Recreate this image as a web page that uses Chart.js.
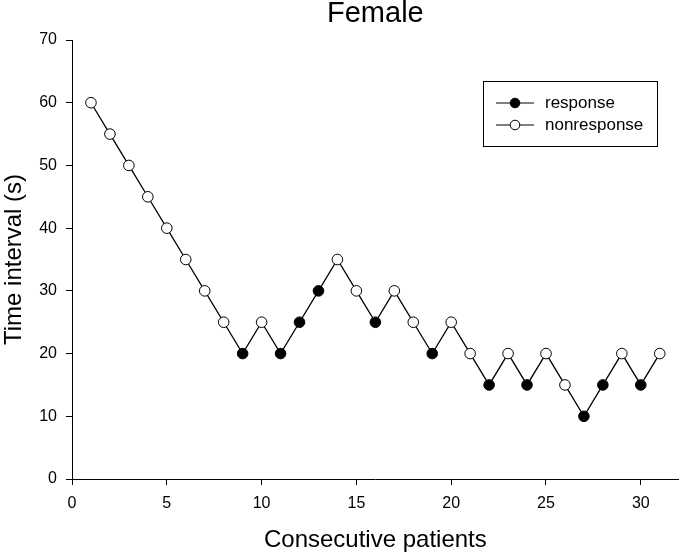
<!DOCTYPE html>
<html><head><meta charset="utf-8">
<script src="https://cdn.jsdelivr.net/npm/chart.js@4/dist/chart.umd.min.js"></script>
<style>html,body{margin:0;padding:0;background:#fff}</style>
</head><body>
<canvas id="c" width="685" height="556"></canvas>
<script>
const chartTitle = 'Female';
const xTitle = 'Consecutive patients';
const yTitle = 'Time interval (s)';
const patients = [1,2,3,4,5,6,7,8,9,10,11,12,13,14,15,16,17,18,19,20,21,22,23,24,25,26,27,28,29,30,31];
const intervals = [60,55,50,45,40,35,30,25,20,25,20,25,30,35,30,25,30,25,20,25,20,15,20,15,20,15,10,15,20,15,20];
const responded = [0,0,0,0,0,0,0,0,1,0,1,1,1,0,0,1,0,0,1,0,0,1,0,1,0,0,1,1,0,1,0];
const legendLabels = ['response', 'nonresponse'];
const xTicks = [0,5,10,15,20,25,30];
const yTicks = [0,10,20,30,40,50,60,70];

const FONT = '"Liberation Sans", Arial, sans-serif';

const overlay = {
  id: 'overlay',
  afterDraw(chart) {
    const ctx = chart.ctx;
    const ca = chart.chartArea;
    ctx.save();
    // title
    ctx.fillStyle = '#000';
    ctx.font = '29px ' + FONT;
    ctx.textAlign = 'center';
    ctx.textBaseline = 'middle';
    ctx.fillText(chartTitle, (ca.left + ca.right) / 2, 14);
    // legend
    ctx.strokeStyle = '#000';
    ctx.lineWidth = 1;
    ctx.strokeRect(483.5, 81.5, 174, 65);
    const rows = [103, 125];
    legendLabels.forEach((lab, i) => {
      const y = rows[i];
      ctx.beginPath();
      ctx.moveTo(496, y); ctx.lineTo(534, y);
      ctx.lineWidth = 1.2;
      ctx.stroke();
      ctx.beginPath();
      ctx.arc(515, y, 4.8, 0, Math.PI * 2);
      ctx.fillStyle = i === 0 ? '#000' : '#fff';
      ctx.fill();
      ctx.lineWidth = 1;
      ctx.stroke();
      ctx.fillStyle = '#000';
      ctx.font = '17px ' + FONT;
      ctx.textAlign = 'left';
      ctx.textBaseline = 'middle';
      ctx.fillText(lab, 545, y);
    });
    ctx.restore();
  }
};

new Chart(document.getElementById('c'), {
  type: 'line',
  data: {
    datasets: [{
      data: patients.map((p, i) => ({x: p, y: intervals[i]})),
      borderColor: '#000',
      borderWidth: 1.3,
      pointRadius: 5.3,
      pointBorderWidth: 1,
      pointBorderColor: '#000',
      pointBackgroundColor: responded.map(r => r ? '#000' : '#fff'),
      tension: 0,
      fill: false
    }]
  },
  options: {
    responsive: false,
    animation: false,
    layout: {padding: {top: 40, right: 1, left: 0, bottom: 0}},
    plugins: {legend: {display: false}, title: {display: false}, tooltip: {enabled: false}},
    scales: {
      x: {
        type: 'linear', min: 0, max: 32,
        afterBuildTicks: s => { s.ticks = xTicks.map(v => ({value: v})); },
        afterFit: s => { s.height = 77; },
        grid: {drawOnChartArea: false, drawTicks: true, tickLength: 6, color: '#000'},
        border: {color: '#000', width: 1},
        ticks: {color: '#000', font: {family: FONT, size: 16}, padding: 9, maxRotation: 0, autoSkip: false},
        title: {display: true, text: xTitle, color: '#000', font: {family: FONT, size: 24}, padding: {top: 0, bottom: 1}}
      },
      y: {
        type: 'linear', min: 0, max: 70,
        afterBuildTicks: s => { s.ticks = yTicks.map(v => ({value: v})); },
        afterFit: s => { s.width = 72; },
        grid: {drawOnChartArea: false, drawTicks: true, tickLength: 6, color: '#000'},
        border: {color: '#000', width: 1},
        ticks: {color: '#000', font: {family: FONT, size: 16}, padding: 9, autoSkip: false},
        title: {display: true, text: yTitle, color: '#000', font: {family: FONT, size: 24}, padding: {top: 0, bottom: 0}}
      }
    }
  },
  plugins: [overlay]
});
</script>
</body></html>
